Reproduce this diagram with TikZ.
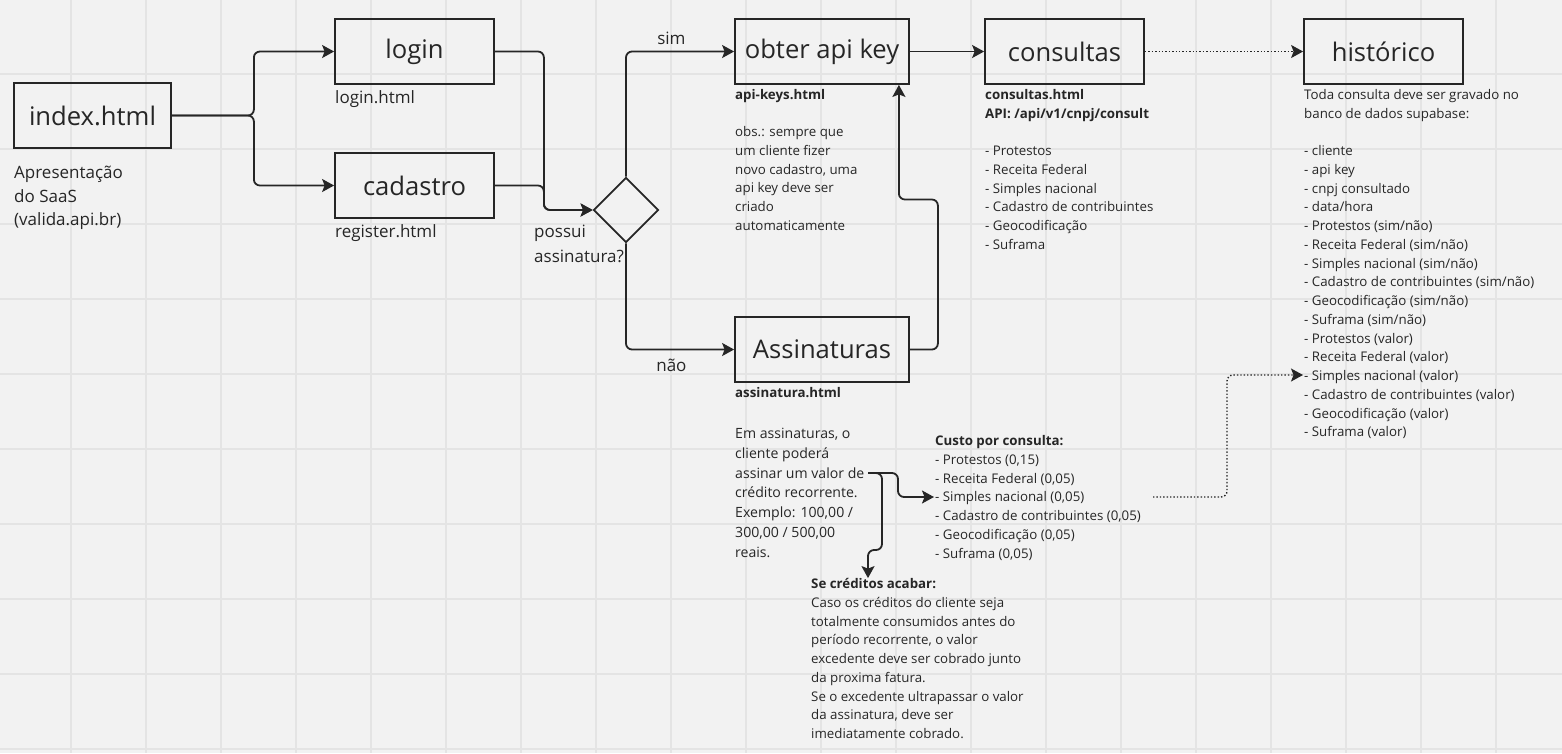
\documentclass[tikz,border=0pt]{standalone}
\usepackage{fontspec}
\setmainfont{Open Sans}
\usetikzlibrary{arrows.meta,shapes.geometric}
\definecolor{fundo}{HTML}{F2F2F2}
\definecolor{grade}{HTML}{E4E4E4}
\definecolor{traco}{HTML}{262626}
\tikzset{
  caixa/.style={draw=traco, line width=1.8pt, minimum height=65, inner sep=0,
    text=traco, font=\fontsize{25.6}{30}\selectfont},
  rotulo/.style={anchor=base west, inner sep=0, align=left, text=traco,
    font=\fontsize{13.3}{18.75}\selectfont},
  medio/.style={font=\fontsize{17}{23.5}\selectfont},
  negrito/.style={font=\fontsize{13.3}{18.75}\selectfont\bfseries},
  seta/.style={draw=traco, line width=1.8pt, rounded corners=6pt,
    -{Stealth[length=12pt,width=13pt,inset=2.5pt]}},
  pontilhado/.style={line width=1.4pt, dash pattern=on 1.4pt off 2pt}
}
\begin{document}
\begin{tikzpicture}[x=1pt,y=-1pt]
	% fundo e grade
	\fill[fundo] (0,0) rectangle (1562,753);
	\useasboundingbox (0,0) rectangle (1562,753);
	\foreach \gx in {71,146,...,1571} \draw[grade, line width=1.5pt] (\gx,0) -- (\gx,753);
	\foreach \gy in {74,149,...,749} \draw[grade, line width=1.5pt] (0,\gy) -- (1562,\gy);

	% paginas
	\node[caixa, minimum width=157] (index) at (92.5,115.5) {index.html};
	\node[caixa, minimum width=159] (login) at (414.5,51.5) {login};
	\node[caixa, minimum width=159] (cadastro) at (414.5,185.5) {cadastro};
	\node[caixa, minimum width=174] (apikey) at (822,51.5) {obter api key};
	\node[caixa, minimum width=174] (assinaturas) at (822,349.5) {Assinaturas};
	\node[caixa, minimum width=159] (consultas) at (1064.5,51.5) {consultas};
	\node[caixa, minimum width=159] (historico) at (1383.5,51.5) {histórico};
	% decisao
	\node[diamond, draw=traco, line width=1.8pt, minimum width=65, minimum height=65, inner sep=0] (decisao) at (626,210) {};

	% textos (base = ultima linha)
	\node[rotulo, medio] (apresenta) at (14,225.5) {Apresentação\\do SaaS\\(valida.api.br)};
	\node[rotulo, medio] (loginhtml) at (335,103.5) {login.html};
	\node[rotulo, medio] (registerhtml) at (335,237.5) {register.html};
	\node[rotulo, font=\fontsize{17}{24.5}\selectfont] (pergunta) at (534,262) {possui\\assinatura?};

	\node[rotulo, negrito] (apikeyhtml) at (735,99.5) {api-keys.html};
	\node[rotulo] (obs) at (735,230.25) {obs.: sempre que\\um cliente fizer\\novo cadastro, uma\\api key deve ser\\criado\\automaticamente};
	\node[rotulo, negrito] (assinaturahtml) at (735,397.5) {assinatura.html};
	\node[rotulo, font=\fontsize{14.1}{19.8}\selectfont] (planos) at (735,557.3) {Em assinaturas, o\\cliente poderá\\assinar um valor de\\crédito recorrente.\\Exemplo: 100,00 /\\300,00 / 500,00\\reais.};

	\node[rotulo, negrito] (consultashtml) at (985,118.25) {consultas.html\\API: /api/v1/cnpj/consult};
	\node[rotulo] (fontes) at (985,249.25) {- Protestos\\- Receita Federal\\- Simples nacional\\- Cadastro de contribuintes\\- Geocodificação\\- Suframa};

	\node[rotulo] (gravar) at (1304,118.25) {Toda consulta deve ser gravado no\\banco de dados supabase:};
	\node[rotulo] (campos) at (1304,436.75) {- cliente\\- api key\\- cnpj consultado\\- data/hora\\- Protestos (sim/não)\\- Receita Federal (sim/não)\\- Simples nacional (sim/não)\\- Cadastro de contribuintes (sim/não)\\- Geocodificação (sim/não)\\- Suframa (sim/não)\\- Protestos (valor)\\- Receita Federal (valor)\\- Simples nacional (valor)\\- Cadastro de contribuintes (valor)\\- Geocodificação (valor)\\- Suframa (valor)};

	\node[rotulo] (custo) at (935,558) {\textbf{Custo por consulta:}\\- Protestos (0,15)\\- Receita Federal (0,05)\\- Simples nacional (0,05)\\- Cadastro de contribuintes (0,05)\\- Geocodificação (0,05)\\- Suframa (0,05)};
	\node[rotulo] (creditos) at (811,738.5) {\textbf{Se créditos acabar:}\\Caso os créditos do cliente seja\\totalmente consumidos antes do\\período recorrente, o valor\\excedente deve ser cobrado junto\\da proxima fatura.\\Se o excedente ultrapassar o valor\\da assinatura, deve ser\\imediatamente cobrado.};

	% pontas soltas
	\coordinate (valor) at (868,473);
	\coordinate (custosimples) at (934,497);
	\coordinate (custofim) at (1153,497);
	\coordinate (histsimples) at (1303,375);

	% fluxo
	\draw[seta] (index.east) -- ++(82,0) |- (login.west);
	\draw[seta] (index.east) -- ++(82,0) |- (cadastro.west);
	\draw[seta] (login.east) -- ++(49,0) |- (decisao.west);
	\draw[seta] (cadastro.east) -- ++(49,0) |- (decisao.west);
	\draw[seta] (decisao.north) |- node[pos=0.71, above=6, inner sep=0, text=traco, medio] {sim} (apikey.west);
	\draw[seta] (decisao.south) |- node[pos=0.71, below=9, inner sep=0, text=traco, medio] {não} (assinaturas.west);
	\draw[seta] (assinaturas.east) -- ++(28,0) -- ++(0,-150) -| ([xshift=-11]apikey.south east);
	\draw[seta] (apikey.east) -- (consultas.west);
	\draw[seta, pontilhado] (consultas.east) -- (historico.west);

	% creditos
	\draw[seta] (valor) -- ++(30,0) |- (custosimples);
	\draw[seta] (valor) -- ++(14,0) -- ++(0,77) -| ([xshift=57]creditos.north west);
	\draw[seta, pontilhado] (custofim) -- ++(74,0) |- (histsimples);
\end{tikzpicture}
\end{document}
